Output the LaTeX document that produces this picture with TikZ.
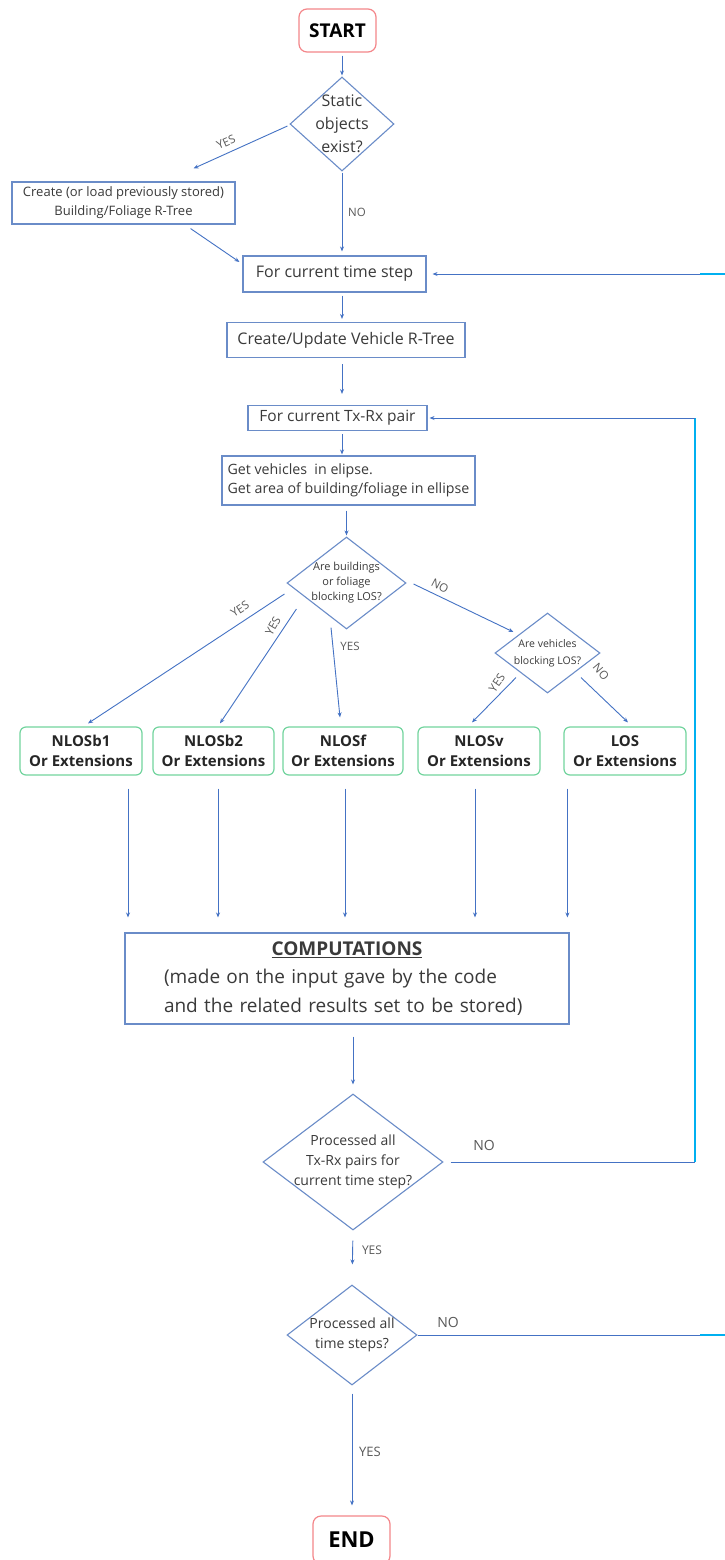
\documentclass[tikz,border=0pt]{standalone}
\usepackage{fontspec}
\setmainfont{Open Sans}
\usetikzlibrary{shapes.geometric,arrows.meta,calc}

\definecolor{lineblue}{HTML}{4472C4}
\definecolor{boxblue}{HTML}{6A8CC8}
\definecolor{railcyan}{HTML}{00B0F0}
\definecolor{termred}{HTML}{F4868A}
\definecolor{optgreen}{HTML}{72D49E}
\definecolor{txt}{HTML}{3A3A3A}
\definecolor{lbltxt}{HTML}{595959}

\tikzset{
  box/.style={rectangle, draw=boxblue, line width=1.1pt, inner sep=2pt, text=txt},
  term/.style={rectangle, rounded corners=8pt, draw=termred, line width=1.2pt,
    minimum width=77pt, text=black, font=\fontsize{19}{23}\selectfont\bfseries},
  dia/.style={diamond, draw=boxblue, line width=1.1pt, inner sep=0pt},
  dtxt/.style={align=center, text=txt, inner sep=0pt},
  opt/.style={rectangle, rounded corners=6pt, draw=optgreen, line width=1.2pt,
    minimum height=48pt, align=center, text=black!85,
    font=\fontsize{15}{20}\selectfont\bfseries},
  arr/.style={draw=lineblue, line width=0.9pt, -{Stealth[length=5pt,width=4pt]}},
  wire/.style={draw=lineblue, line width=0.9pt},
  rail/.style={draw=railcyan, line width=1.2pt},
  lbl/.style={text=lbltxt, inner sep=0pt, font=\fontsize{11.5}{13}\selectfont},
}

\begin{document}
\begin{tikzpicture}[x=1pt, y=-1pt, font=\fontsize{16}{20}\selectfont]
\clip (0,0) rectangle (725,1560);
\fill[white] (0,0) rectangle (725,1560);

% ---- top part ----
\node[term, minimum height=43pt] (start) at (337.5,30.5) {START};
\node[dia, minimum width=104pt, minimum height=94pt,
  label={[dtxt, font=\fontsize{16}{23}\selectfont]center:Static\\objects\\exist?}] (d1) at (342,124) {};
\node[box, minimum width=223pt, minimum height=42pt, align=center,
  font=\fontsize{13}{19}\selectfont] (create) at (123.5,203)
  {Create (or load previously stored)\\Building/Foliage R-Tree};
\node[box, minimum width=183pt, minimum height=36pt] (tstep) at (334.5,274) {For current time step};
\node[box, minimum width=238pt, minimum height=35pt] (vtree) at (346,340) {Create/Update Vehicle R-Tree};
\node[box, minimum width=179pt, minimum height=25pt, inner sep=1pt,
  font=\fontsize{15.5}{18}\selectfont] (txrx) at (337.5,418) {For current Tx-Rx pair};
\node[box, minimum width=253pt, minimum height=49pt, align=left,
  font=\fontsize{14.2}{19}\selectfont] (getv) at (348.5,480.5)
  {Get vehicles~~in elipse.\\Get area of building/foliage in ellipse};

% ---- classification ----
\node[dia, minimum width=119pt, minimum height=92pt,
  label={[dtxt, font=\fontsize{11}{15}\selectfont]center:Are buildings\\or foliage\\blocking LOS?}] (d2) at (346.5,583) {};
\node[dia, minimum width=105pt, minimum height=80pt,
  label={[dtxt, font=\fontsize{10.5}{17}\selectfont]center:Are vehicles\\blocking LOS?}] (d3) at (547.5,653) {};

\node[opt, minimum width=122pt] (nb1) at (81,751) {NLOSb1\\Or Extensions};
\node[opt, minimum width=121pt] (nb2) at (213.5,751) {NLOSb2\\Or Extensions};
\node[opt, minimum width=120pt] (nf) at (343,751) {NLOSf\\Or Extensions};
\node[opt, minimum width=122pt] (nv) at (479,751) {NLOSv\\Or Extensions};
\node[opt, minimum width=122pt] (los) at (625,751) {LOS\\Or Extensions};

\node[box, minimum width=444pt, minimum height=91pt, text width=366pt, align=left,
  font=\fontsize{19}{28.5}\selectfont] (comp) at (347,978.5)
  {\makebox[366pt][c]{\textbf{\underline{COMPUTATIONS}}}\\(made on the input gave by the code\\and the related results set to be stored)};

% ---- loop control ----
\node[dia, minimum width=180pt, minimum height=136pt,
  label={[dtxt, font=\fontsize{14}{20}\selectfont]center:Processed all\\Tx-Rx pairs for\\current time step?}] (d4) at (353,1162) {};
\node[dia, minimum width=130pt, minimum height=100pt,
  label={[dtxt, font=\fontsize{14}{20}\selectfont]center:Processed all\\time steps?}] (d5) at (352,1335) {};
\node[term, minimum height=48pt, font=\fontsize{22}{26}\selectfont\bfseries] (end) at (351.5,1540) {END};

% ---- rails for the two loops ----
\coordinate (rail1) at (695,0);
\coordinate (fade2) at (700,0);
\coordinate (rail2) at (760,0);

% ---- connectors: top part ----
\draw[arr, shorten <=3pt, shorten >=1pt] (start.south -| d1.north) -- (d1.north);
\draw[arr] ($(d1.west)+(-2,2)$) -- ($(create.north east)+(-42,-13)$);
\draw[arr] ($(create.south east)+(-45,4)$) -- ($(tstep.west)+(-3,-12)$);
\draw[arr, shorten <=1pt, shorten >=4pt] (d1.south) -- (d1.south |- tstep.north);
\draw[arr, shorten <=3pt, shorten >=3pt] (d1.south |- tstep.south) -- (d1.south |- vtree.north);
\draw[arr, shorten <=6pt, shorten >=11pt] (d1.south |- vtree.south) -- (d1.south |- txrx.north);
\draw[arr, shorten <=3pt, shorten >=1pt] (d1.south |- txrx.south) -- (d1.south |- getv.north);
\draw[arr, shorten <=5pt, shorten >=1pt] (d2.north |- getv.south) -- (d2.north);

\node[lbl, rotate=24] (lyes0) at (226,142) {YES};
\node[lbl] (lno0) at (357,212) {NO};

% ---- connectors: classification ----
\draw[arr] ($(d2.west)+(-2,11)$) -- ($(nb1.north)+(7,-3)$);
\draw[arr] ($(d2.west)+(10,26)$) -- ($(nb2.north)+(6.5,-3)$);
\draw[arr] ($(d2.south)+(-15.5,-2)$) -- ($(nf.north)+(-3,-9)$);
\draw[arr] ($(d2.east)+(7,1)$) -- ($(d3.west)+(19,-21)$);
\draw[arr] ($(d3.south)+(-31.5,-16)$) -- ($(nv.north)+(-7,-4)$);
\draw[arr] ($(d3.south)+(33.5,-16)$) -- ($(los.north)+(3,-4)$);

\node[lbl, rotate=33] (lyes1) at (240,609) {YES};
\node[lbl, rotate=60] (lyes2) at (273,626) {YES};
\node[lbl] (lyes3) at (350,646) {YES};
\node[lbl, rotate=-28] (lno1) at (440,586) {NO};
\node[lbl, rotate=55] (lyes4) at (497,683) {YES};
\node[lbl, rotate=-50] (lno2) at (601,672) {NO};

% ---- results feed the computations ----
\coordinate (v1) at ($(nb1.south)+(47,13)$);
\coordinate (v2) at ($(nb2.south)+(4.5,13)$);
\coordinate (v3) at ($(nf.south)+(2,13)$);
\coordinate (v4) at ($(nv.south)+(-4,13)$);
\coordinate (v5) at ($(los.south west)+(4,13)$);
\foreach \v in {v1,v2,v3,v4,v5}
  \draw[arr, shorten >=15pt] (\v) -- (\v |- comp.north);

% ---- connectors: loop control ----
\draw[arr, shorten <=12pt, shorten >=9pt] (comp.south -| d4.north) -- (d4.north);
\draw[arr, shorten <=10pt, shorten >=20pt] (d4.south) -- (d5.north);
\draw[arr, shorten <=8pt, shorten >=10pt] (d5.south) -- (d5.south |- end.north);

% pair loop: back to the Tx-Rx pair box
\draw[wire] ($(d4.east)+(7,0)$) -- (d4.east -| rail1);
\draw[rail] (d4.east -| rail1) -- (txrx.east -| rail1);
\draw[arr, shorten >=2pt] (txrx.east -| rail1) -- (txrx.east);

% time loop: back to the time step box
\draw[wire] (d5.east) -- (d5.east -| fade2);
\draw[rail] (d5.east -| fade2) -- (d5.east -| rail2) -- (tstep.east -| rail2) -- (tstep.east -| fade2);
\draw[arr, shorten >=6pt] (tstep.east -| fade2) -- (tstep.east);

\node[lbl, font=\fontsize{14}{16}\selectfont] (lno3) at (484,1145) {NO};
\node[lbl, font=\fontsize{12}{14}\selectfont] (lyes5) at (372,1250) {YES};
\node[lbl, font=\fontsize{14}{16}\selectfont] (lno4) at (448,1322) {NO};
\node[lbl, font=\fontsize{13}{15}\selectfont] (lyes6) at (370,1452) {YES};
\end{tikzpicture}
\end{document}
